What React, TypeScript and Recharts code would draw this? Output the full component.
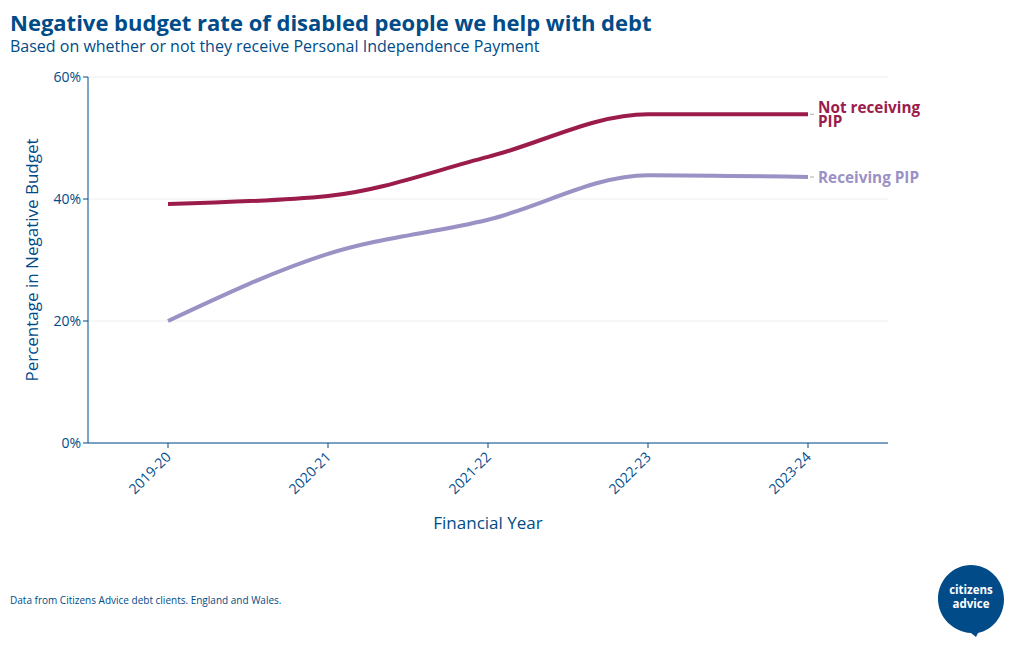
import React from 'react';
import { LineChart, Line, XAxis, YAxis, CartesianGrid, Label } from 'recharts';

const years = ['2019-20', '2020-21', '2021-22', '2022-23', '2023-24'];
const notReceiving = [39.2, 40.5, 46.9, 53.9, 53.9];
const receiving = [20.0, 31.0, 36.6, 43.9, 43.6];
const yTicks = [0, 20, 40, 60];

const data = years.map((y, i) => ({ year: y, notReceiving: notReceiving[i], receiving: receiving[i] }));

const BLUE = '#004b88';
const RED = '#9b1b4b';
const PURPLE = '#9b91c5';
const FONT = '"Open Sans", sans-serif';

const makeEndLabel = (lines: string[], color: string) => (props: any) => {
  const { x, y, index } = props;
  if (index !== years.length - 1) return null;
  const lh = 14;
  const startY = y - ((lines.length - 1) * lh) / 2;
  return (
    <g>
      <line x1={x + 2} x2={x + 6} y1={y} y2={y} stroke="#aaaaaa" strokeWidth={1} />
      <text x={x + 10} y={startY} fill={color} fontFamily={FONT} fontWeight={700} fontSize={15.3} dominantBaseline="central">
        {lines.map((l, i) => (
          <tspan key={i} x={x + 10} dy={i === 0 ? 0 : lh}>{l}</tspan>
        ))}
      </text>
    </g>
  );
};

export default function App() {
  return (
    <div style={{ position: 'absolute', left: 0, top: 0, width: 1020, height: 650, background: '#fff', fontFamily: FONT }}>
      <div style={{ position: 'absolute', left: 10, top: 7, color: BLUE, fontSize: 22, fontWeight: 700, whiteSpace: 'nowrap' }}>
        Negative budget rate of disabled people we help with debt
      </div>
      <div style={{ position: 'absolute', left: 10, top: 35, color: BLUE, fontSize: 16, whiteSpace: 'nowrap' }}>
        Based on whether or not they receive Personal Independence Payment
      </div>
      <LineChart width={1020} height={650} data={data} margin={{ top: 77, left: 28, right: 132, bottom: 147 }}>
        <CartesianGrid vertical={false} stroke="#eeeeee" />
        <XAxis
          dataKey="year"
          padding={{ left: 80, right: 80 }}
          height={60}
          stroke={BLUE}
          tickLine={{ stroke: BLUE }}
          tickSize={5}
          interval={0}
          tick={(p: any) => (
            <text
              x={p.x}
              y={p.y + 4}
              transform={`rotate(-45 ${p.x} ${p.y + 4})`}
              textAnchor="end"
              dominantBaseline="central"
              fill={BLUE}
              fontSize={14}
              fontFamily={FONT}
            >
              {p.payload.value}
            </text>
          )}
        >
          <Label value="Financial Year" position="insideBottom" offset={-26} fill={BLUE} fontSize={17} fontFamily={FONT} />
        </XAxis>
        <YAxis
          domain={[0, 60]}
          ticks={yTicks}
          width={60}
          stroke={BLUE}
          tickSize={5}
          tickFormatter={(v: number) => `${v}%`}
          tick={{ fill: BLUE, fontSize: 14, fontFamily: FONT }}
        >
          <Label value="Percentage in Negative Budget" angle={-90} position="insideLeft" offset={4} fill={BLUE} fontSize={17} fontFamily={FONT} style={{ textAnchor: 'middle' }} />
        </YAxis>
        <Line
          type="monotone"
          dataKey="receiving"
          stroke={PURPLE}
          strokeWidth={4}
          dot={false}
          isAnimationActive={false}
          label={makeEndLabel(['Receiving PIP'], PURPLE)}
        />
        <Line
          type="monotone"
          dataKey="notReceiving"
          stroke={RED}
          strokeWidth={4}
          dot={false}
          isAnimationActive={false}
          label={makeEndLabel(['Not receiving', 'PIP'], RED)}
        />
      </LineChart>
      <div style={{ position: 'absolute', left: 10, top: 593, color: BLUE, fontSize: 10, whiteSpace: 'nowrap' }}>
        Data from Citizens Advice debt clients. England and Wales.
      </div>
      <svg style={{ position: 'absolute', left: 930, top: 558 }} width={84} height={84}>
        <path d="M 41 7 C 59 7 74 22 74 41 C 74 59 62 72 48 75 L 46 79 L 41 75 C 23 74 8 59 8 41 C 8 22 23 7 41 7 Z" fill={BLUE} />
        <text x={41} y={36} textAnchor="middle" fill="#fff" fontSize={11.5} fontWeight={700} fontFamily={FONT}>citizens</text>
        <text x={41} y={50} textAnchor="middle" fill="#fff" fontSize={11.5} fontWeight={700} fontFamily={FONT}>advice</text>
      </svg>
    </div>
  );
}
